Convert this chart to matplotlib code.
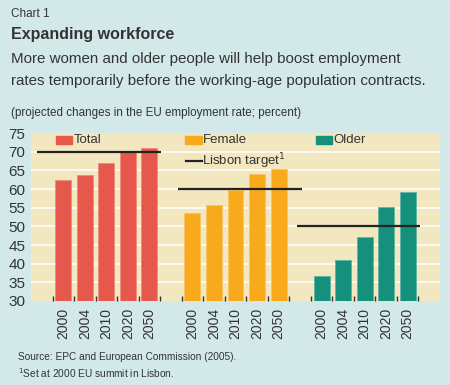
import matplotlib
matplotlib.use("Agg")
import matplotlib.pyplot as plt
from matplotlib.patches import Rectangle
from matplotlib.lines import Line2D

plt.rcParams['font.family'] = ['Liberation Sans Narrow', 'Liberation Sans', 'DejaVu Sans']

years = ["2000", "2004", "2010", "2020", "2050"]
groups = ["Total", "Female", "Older"]
total = [62.4, 63.7, 67.0, 70.2, 71.1]
female = [53.5, 55.6, 59.7, 64.0, 65.4]
older = [36.7, 41.0, 47.2, 55.2, 59.1]
lisbon = [70, 60, 50]
series = [total, female, older]
colors = ["#E5584B", "#F8AA1C", "#14907D"]
edge_colors = ["#F08A7E", "#FBC460", "#5FB5A5"]

# layout
line_offsets = [(-1.22, 0.54), (-0.66, 1.07), (-1.16, 0.57)]

fig = plt.figure(figsize=(4.5, 3.85), dpi=100)
fig.patch.set_facecolor("#D3E9E9")
ax = fig.add_axes([31/450, 1-301/385, (440-31)/450, (301-133)/385])
ax.set_facecolor("#F3E7C0")

txt = "#333333"
centers_all = []
labels_all = []
bounds = []
for gi, vals in enumerate(series):
    start = 1 + gi * 6
    xs = [start + i for i in range(len(vals))]
    ax.bar(xs, [v - 30 for v in vals], bottom=30, width=0.74, color=colors[gi],
           edgecolor=edge_colors[gi], linewidth=0.6, zorder=3)
    centers_all += xs
    labels_all += years
    bounds += [start - 0.5 + i for i in range(len(vals) + 1)]
    a, b = line_offsets[gi]
    ax.plot([xs[0] + a, xs[-1] + b], [lisbon[gi]] * 2, color="#222222", lw=1.6,
            zorder=4, solid_capstyle="butt")

ax.set_xlim(-0.5, 18.5)
ax.set_ylim(30, 75)
ax.set_yticks(range(30, 76, 5))
for y in range(35, 75, 5):
    ax.axhline(y, color="white", lw=1.1, zorder=1)
for s in ax.spines.values():
    s.set_visible(False)

ax.set_xticks(centers_all)
ax.set_xticklabels(labels_all, rotation=90, fontsize=10, color=txt)
ax.set_xticks(bounds, minor=True)
ax.tick_params(axis="x", which="major", length=0, pad=5)
ax.tick_params(axis="x", which="minor", length=3.5, width=1.0, direction="in",
               color="#333333")
ax.tick_params(axis="y", length=0, pad=4, labelsize=11, labelcolor=txt)

# legend (manual)
def leg_patch(x, y, c, label):
    ax.add_patch(Rectangle((x, y), 0.041, 0.045, transform=ax.transAxes,
                           color=c, clip_on=False, zorder=5))
    ax.text(x + 0.043, y + 0.022, label, transform=ax.transAxes, fontsize=9.5,
            color=txt, va="center", ha="left", zorder=5)

leg_patch((55.7-31)/409, (301-144)/168, colors[0], "Total")
leg_patch((185-31)/409, (301-144)/168, colors[1], "Female")
leg_patch((315.7-31)/409, (301-144)/168, colors[2], "Older")
ly = (301-161)/168
ax.add_line(Line2D([(185.7-31)/409, (201.7-31)/409], [ly, ly], transform=ax.transAxes,
                   color="#222222", lw=1.6, zorder=5))
ax.text((202.5-31)/409, ly, "Lisbon target$^{1}$", transform=ax.transAxes, fontsize=9.5,
        color=txt, va="center", ha="left", zorder=5)

# titles
fig.text(11/450, 1-14/385, "Chart 1", fontsize=8.5, color=txt, va="center")
fig.text(11/450, 1-35/385, "Expanding workforce", fontsize=11.5, fontweight="bold",
         color=txt, va="center", family=['Liberation Sans', 'DejaVu Sans'])
fig.text(11/450, 1-59/385, "More women and older people will help boost employment",
         fontsize=10.9, color=txt, va="center", family=['Liberation Sans', 'DejaVu Sans'])
fig.text(11/450, 1-81/385, "rates temporarily before the working-age population contracts.",
         fontsize=10.9, color=txt, va="center", family=['Liberation Sans', 'DejaVu Sans'])
fig.text(11/450, 1-113/385, "(projected changes in the EU employment rate; percent)",
         fontsize=8.35, color=txt, va="center")
fig.text(18/450, 1-357/385, "Source: EPC and European Commission (2005).",
         fontsize=7.3, color=txt, va="center")
fig.text(18/450, 1-373/385, "$^{1}$Set at 2000 EU summit in Lisbon.",
         fontsize=7.3, color=txt, va="center")

fig.savefig("out.png", dpi=100, facecolor=fig.get_facecolor())
